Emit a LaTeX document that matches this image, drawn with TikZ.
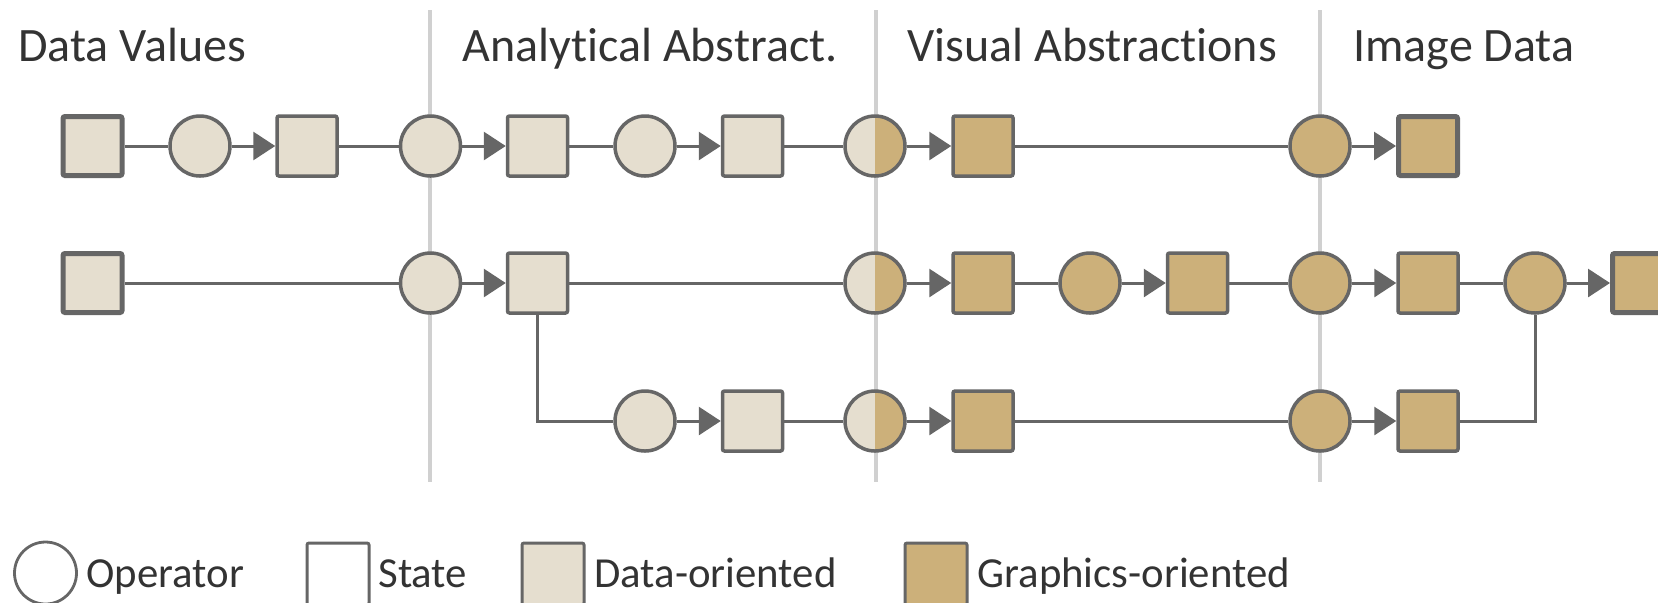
\documentclass[tikz,border=0pt]{standalone}
\usepackage{fontspec}
\setmainfont{Carlito}[Ligatures=NoCommon]
\usetikzlibrary{shapes,arrows.meta}

\begin{document}
\begin{tikzpicture}[x=0.5pt,y=-0.5pt,
  state/.style={rectangle,draw=linecolor,line width=1.75pt,minimum size=30pt,inner sep=0pt,rounded corners=1pt},
  endstate/.style={state,line width=2.5pt,minimum size=29.5pt},
  op/.style={circle,draw=linecolor,line width=1.75pt,minimum size=30pt,inner sep=0pt},
  data/.style={fill=datafill},
  gfx/.style={fill=gfxfill},
  mixed/.style={path picture={
      \fill[datafill] (path picture bounding box.south west) rectangle (path picture bounding box.north);
      \fill[gfxfill] (path picture bounding box.south) rectangle (path picture bounding box.north east);}},
  link/.style={draw=linecolor,line width=1.5pt},
  flow/.style={link,-{Triangle[length=11pt,width=14pt]}},
  divider/.style={draw=dividercolor,line width=2pt},
  heading/.style={anchor=base west,text=textcolor,inner sep=0pt,font=\fontsize{24}{29}\selectfont},
  key/.style={anchor=base west,text=textcolor,inner sep=0pt,font=\fontsize{21.4}{25}\selectfont}]
\definecolor{linecolor}{RGB}{102,102,102} % outline of states, operators and links
\definecolor{datafill}{RGB}{229,222,207} % data-oriented fill
\definecolor{gfxfill}{RGB}{204,176,122} % graphics-oriented fill
\definecolor{dividercolor}{RGB}{208,208,208} % stage separators
\definecolor{textcolor}{RGB}{51,51,51} % text
\useasboundingbox (0,0) rectangle (1658,602); % page size in px

% stage separators
\draw[divider] (430,10) -- (430,482);
\draw[divider] (876,10) -- (876,482);
\draw[divider] (1320,10) -- (1320,482);

% stage titles
\node[heading] (tdata) at (18,61) {Data Values};
\node[heading] (tana) at (462,61) {Analytical Abstract.};
\node[heading] (tvis) at (907,61) {Visual Abstractions};
\node[heading] (timg) at (1353,61) {Image Data};

% first pipeline
\node[endstate,data] (s11) at (92.5,146) {};
\node[op,data] (o11) at (200,146) {};
\node[state,data] (s12) at (307,146) {};
\node[op,data] (o12) at (430.5,146) {};
\node[state,data] (s13) at (537.5,146) {};
\node[op,data] (o13) at (645,146) {};
\node[state,data] (s14) at (752.5,146) {};
\node[op,mixed] (o14) at (875,146) {};
\node[state,gfx] (s15) at (983,146) {};
\node[op,gfx] (o15) at (1320,146) {};
\node[endstate,gfx] (s16) at (1428,146) {};

% second pipeline
\node[endstate,data] (s21) at (92.5,283) {};
\node[op,data] (o21) at (430.5,283) {};
\node[state,data] (s22) at (537.5,283) {};
\node[op,mixed] (o22) at (875,283) {};
\node[state,gfx] (s23) at (983,283) {};
\node[op,gfx] (o23) at (1090,283) {};
\node[state,gfx] (s24) at (1197.5,283) {};
\node[op,gfx] (o24) at (1320,283) {};
\node[state,gfx] (s25) at (1428,283) {};
\node[op,gfx] (o25) at (1535,283) {};
\node[endstate,gfx] (s26) at (1642,283) {};

% branch
\node[op,data] (o31) at (645,421) {};
\node[state,data] (s31) at (752.5,421) {};
\node[op,mixed] (o32) at (875,421) {};
\node[state,gfx] (s32) at (983,421) {};
\node[op,gfx] (o33) at (1320,421) {};
\node[state,gfx] (s33) at (1428,421) {};

% links, first pipeline
\draw[link] (s11) -- (o11);
\draw[flow] (o11) -- (s12);
\draw[link] (s12) -- (o12);
\draw[flow] (o12) -- (s13);
\draw[link] (s13) -- (o13);
\draw[flow] (o13) -- (s14);
\draw[link] (s14) -- (o14);
\draw[flow] (o14) -- (s15);
\draw[link] (s15) -- (o15);
\draw[flow] (o15) -- (s16);

% links, second pipeline
\draw[link] (s21) -- (o21);
\draw[flow] (o21) -- (s22);
\draw[link] (s22) -- (o22);
\draw[flow] (o22) -- (s23);
\draw[link] (s23) -- (o23);
\draw[flow] (o23) -- (s24);
\draw[link] (s24) -- (o24);
\draw[flow] (o24) -- (s25);
\draw[link] (s25) -- (o25);
\draw[flow] (o25) -- (s26);

% links, branch
\draw[link] (s22.south) |- (o31.west);
\draw[flow] (o31) -- (s31);
\draw[link] (s31) -- (o32);
\draw[flow] (o32) -- (s32);
\draw[link] (s32) -- (o33);
\draw[flow] (o33) -- (s33);
\draw[link] (s33.east) -| (o25.south);

% legend
\node[op,line width=1.4pt,minimum size=31pt] (kop) at (45.5,573) {};
\node[key] (lop) at (86,587) {Operator};
\node[state,line width=1.5pt,minimum size=31pt] (kstate) at (338,574) {};
\node[key] (lstate) at (378,587) {State};
\node[state,data,line width=1.5pt,minimum size=31pt] (kdata) at (553,574) {};
\node[key] (ldata) at (594,587) {Data-oriented};
\node[state,gfx,line width=1.5pt,minimum size=31pt] (kgfx) at (936,574) {};
\node[key] (lgfx) at (977,587) {Graphics-oriented};
\end{tikzpicture}
\end{document}
